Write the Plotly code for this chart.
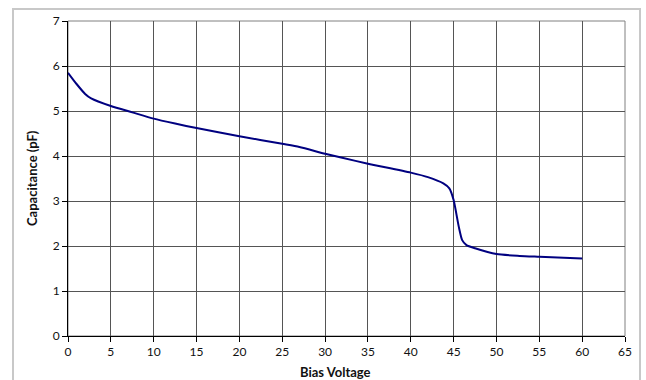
import plotly.graph_objects as go

bias_voltage = [0, 1, 2, 2.7, 5, 7.5, 10, 12.5, 15, 20, 25, 27, 30, 32, 35, 40, 42, 43.8, 44.5, 45, 45.6, 46, 46.5, 47.5, 50, 52.7, 55, 60]
capacitance = [5.85, 5.6, 5.38, 5.28, 5.11, 4.97, 4.83, 4.72, 4.62, 4.44, 4.27, 4.2, 4.05, 3.96, 3.83, 3.63, 3.53, 3.39, 3.28, 3.02, 2.43, 2.13, 2.02, 1.95, 1.82, 1.78, 1.76, 1.72]

x_ticks = list(range(0, 66, 5))
y_ticks = list(range(0, 8, 1))

W, H = 646, 380
L, R, T, B = 68, 21, 21, 44
pw, ph = W - L - R, H - T - B

def px_to_paper_x(px):
    return (px - L) / pw

def px_to_paper_y(py):
    return (H - B - py) / ph

fig = go.Figure()
fig.add_trace(go.Scatter(
    x=bias_voltage, y=capacitance, mode="lines",
    line=dict(color="#000080", width=2, shape="spline", smoothing=0.6),
    hoverinfo="x+y", showlegend=False,
))

font = dict(family="Lato, Open Sans, sans-serif", size=12, color="#111")
title_font = dict(family="Lato, Open Sans, sans-serif", size=13, color="#111")

fig.update_layout(
    width=W, height=H,
    margin=dict(l=L, r=R, t=T, b=B),
    paper_bgcolor="white", plot_bgcolor="white",
    font=font,
    xaxis=dict(
        range=[0, 65], tickvals=x_ticks, ticktext=[str(v) for v in x_ticks],
        showgrid=True, gridcolor="#555555", gridwidth=1,
        showline=True, linecolor="black", linewidth=1, mirror=False,
        ticks="outside", ticklen=5, tickcolor="black", zeroline=False,
        tickfont=font, fixedrange=True,
    ),
    yaxis=dict(
        range=[0, 7], tickvals=y_ticks, ticktext=[str(v) for v in y_ticks],
        showgrid=True, gridcolor="#555555", gridwidth=1,
        showline=True, linecolor="black", linewidth=1, mirror=False,
        ticks="outside", ticklen=5, tickcolor="black", zeroline=False,
        tickfont=font, fixedrange=True,
    ),
    shapes=[
        dict(type="rect", xref="paper", yref="paper",
             x0=px_to_paper_x(13), x1=px_to_paper_x(640),
             y0=px_to_paper_y(395), y1=px_to_paper_y(9),
             line=dict(color="#c8c8c8", width=2), layer="below"),
        dict(type="rect", xref="paper", yref="paper",
             x0=0, x1=1, y0=0, y1=1,
             line=dict(color="#808080", width=1), layer="below"),
    ],
    annotations=[
        dict(text="<b>Bias Voltage</b>", xref="paper", yref="paper",
             x=px_to_paper_x(335), y=px_to_paper_y(372), showarrow=False,
             font=title_font, xanchor="center", yanchor="middle"),
        dict(text="<b>Capacitance (pF)</b>", xref="paper", yref="paper",
             x=px_to_paper_x(32), y=px_to_paper_y(178), showarrow=False, textangle=-90,
             font=title_font, xanchor="center", yanchor="middle"),
    ],
)

fig.write_html("out.html")
